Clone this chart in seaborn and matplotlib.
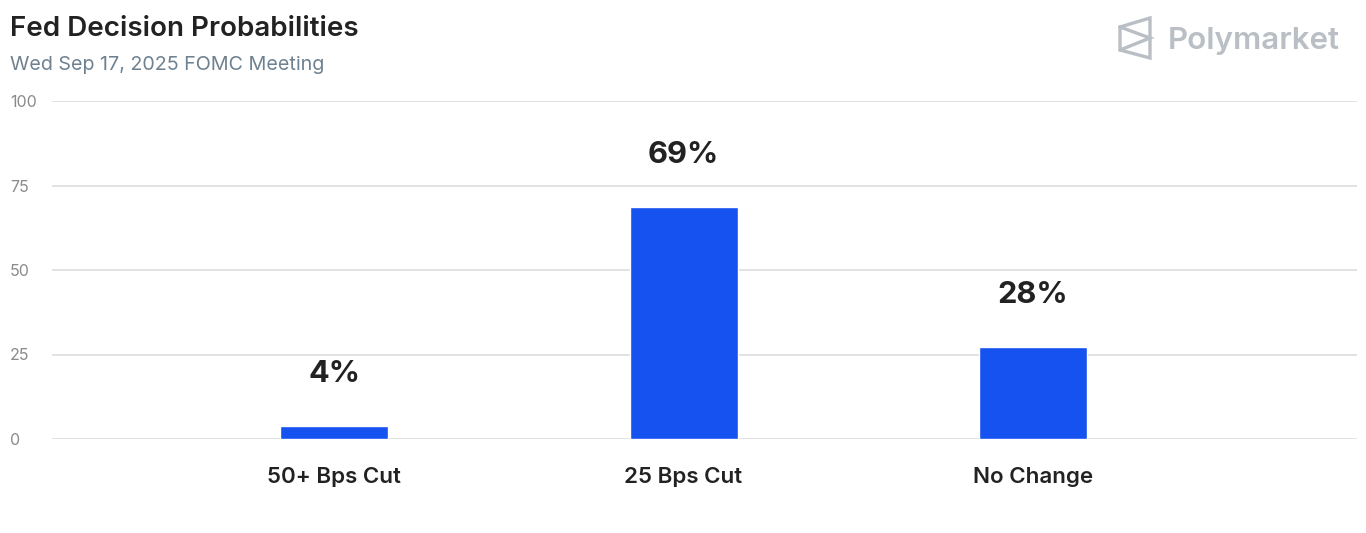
import matplotlib
matplotlib.use("Agg")
import matplotlib.pyplot as plt
import seaborn as sns
import pandas as pd

categories = ["50+ Bps Cut", "25 Bps Cut", "No Change"]
values = [3.8, 68.5, 27.3]
value_labels = ["4%", "69%", "28%"]
y_ticks = [0, 25, 50, 75, 100]
title = "Fed Decision Probabilities"
subtitle = "Wed Sep 17, 2025 FOMC Meeting"
brand = "Polymarket"

sns.set_theme(style="white")
plt.rcParams["font.family"] = ["Inter", "DejaVu Sans"]

W, H = 1366, 533
fig = plt.figure(figsize=(W / 100, H / 100), dpi=100)
fig.patch.set_facecolor("white")

ax = fig.add_axes([52 / W, (H - 439) / H, (1357 - 52) / W, (439 - 101) / H])
df = pd.DataFrame({"cat": categories, "val": values})
sns.barplot(data=df, x="cat", y="val", color="#1652F0", saturation=1,
            width=0.309, ax=ax, zorder=3)

ax.set_xlim(-0.807, 2.927)
ax.set_ylim(0, 100)
ax.set_yticks(y_ticks)
ax.set_yticklabels([str(t) for t in y_ticks])
ax.yaxis.grid(True, color="#e2e2e2", linewidth=1.4, zorder=0)
ax.xaxis.grid(False)
for s in ax.spines.values():
    s.set_visible(False)
ax.set_xlabel("")
ax.set_ylabel("")
ax.tick_params(axis="y", length=0, pad=42 * 0.72, labelsize=11.5, labelcolor="#8a8a8a")
for lab in ax.get_yticklabels():
    lab.set_horizontalalignment("left")
ax.tick_params(axis="x", length=0, pad=20.5, labelsize=16.1, labelcolor="#222222")
for lab in ax.get_xticklabels():
    lab.set_fontweight("semibold")

for i, (v, lab) in enumerate(zip(values, value_labels)):
    ax.annotate(lab, (i, v), xytext=(0, 37.5), textcoords="offset points",
                ha="center", va="center", fontsize=22.2, fontweight="bold",
                color="#222222")

fig.text(10 / W, 1 - 36 / H, title, fontsize=20, fontweight="semibold",
         color="#222222", ha="left", va="baseline")
fig.text(10 / W, 1 - 70 / H, subtitle, fontsize=14.2, color="#6e8190",
         ha="left", va="baseline")

# brand logo
ov = fig.add_axes([0, 0, 1, 1], zorder=5)
ov.set_xlim(0, W)
ov.set_ylim(H, 0)
ov.axis("off")
ov.patch.set_alpha(0)
grey = "#b9bfc4"
ov.plot([1120, 1150, 1150, 1120, 1120], [27, 18, 58, 50, 27], color=grey, lw=2.4,
        solid_joinstyle="miter")
ov.plot([1120, 1150, 1120], [27, 38, 50], color=grey, lw=2.4, solid_joinstyle="miter")
fig.text(1168 / W, 1 - 49 / H, brand, fontsize=22.6, fontweight="semibold",
         color=grey, ha="left", va="baseline")

fig.savefig("out.png", dpi=100, facecolor="white")
